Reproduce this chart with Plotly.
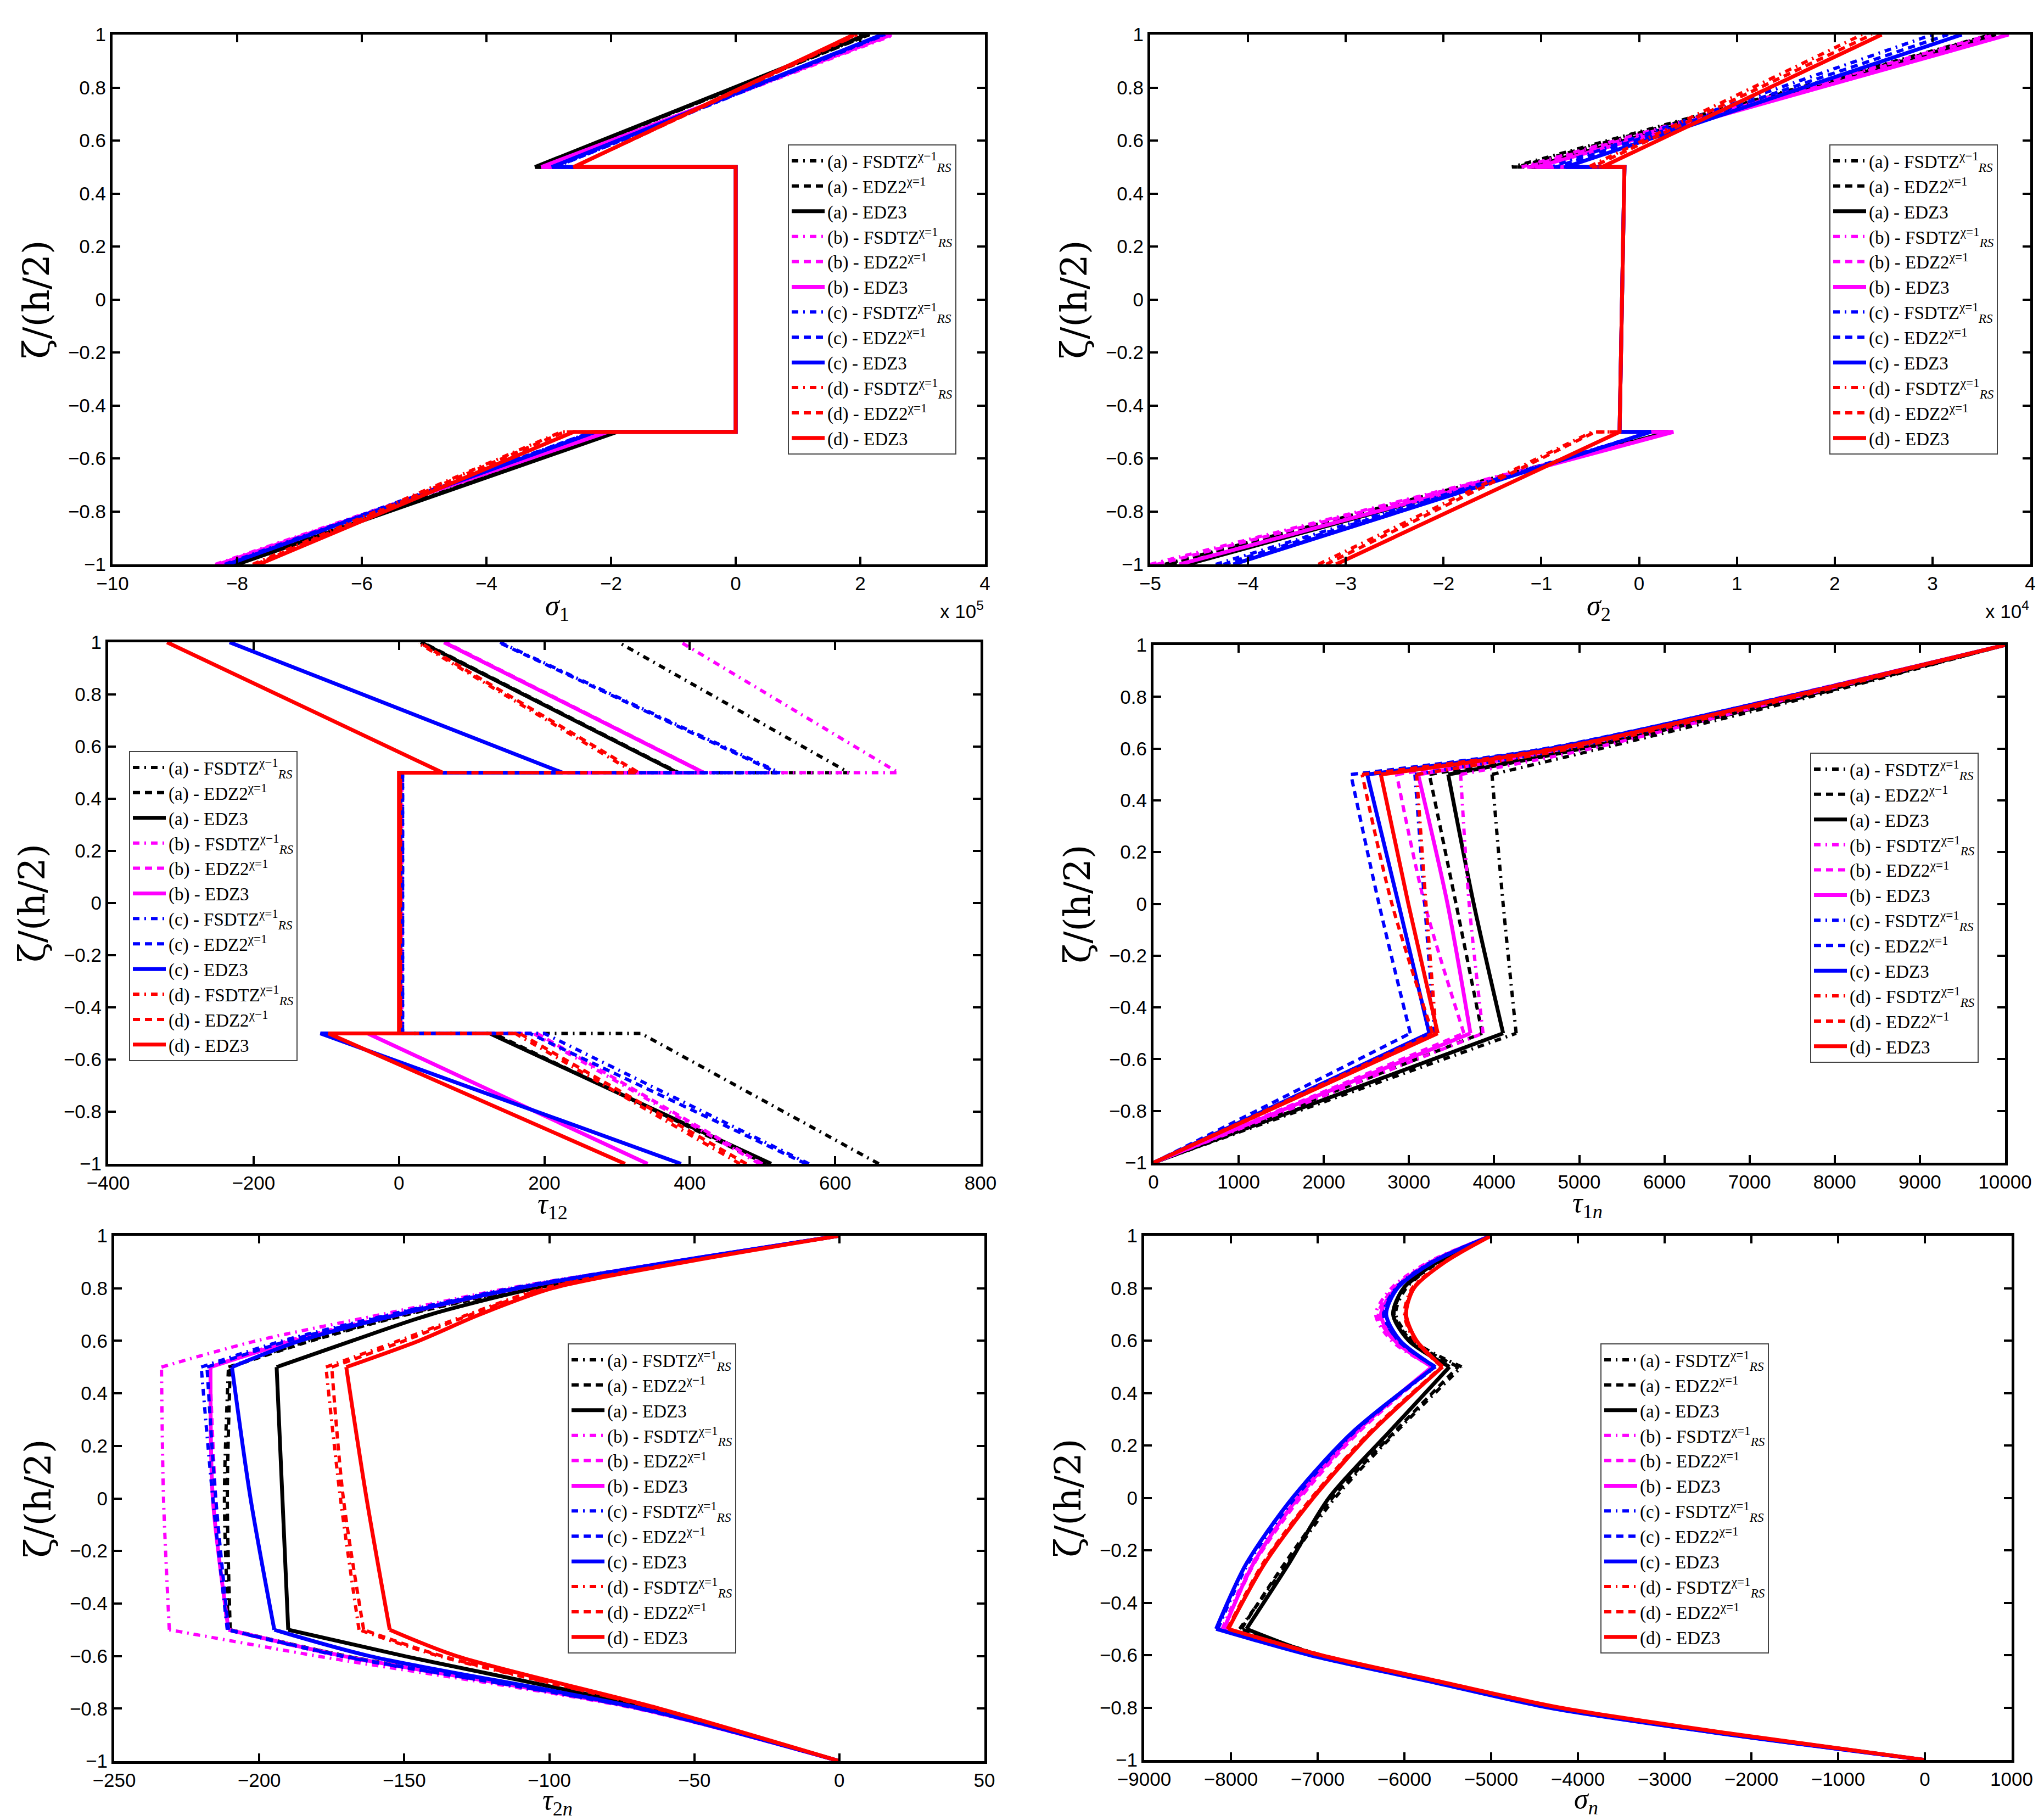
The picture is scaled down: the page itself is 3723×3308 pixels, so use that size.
import plotly.graph_objects as go

# ---------------- data ----------------
CASES = ["(a)", "(b)", "(c)", "(d)"]
MODELS = ["FSDTZ", "EDZ2", "EDZ3"]
COLORS = ["#000000", "#ff00ff", "#0000ff", "#ff0000"]

# sigma_1 (x 1e5); zeta nodes with jumps at +-0.5
zeta_sigma1 = [-1, -0.5, -0.5, 0.5, 0.5, 1]
sigma1_a = [[-8.05, -1.95, 0, 0, -3.20, 2.15],
            [-8.00, -1.95, 0, 0, -3.20, 2.15],
            [-8.00, -1.90, 0, 0, -3.22, 2.10]]
sigma1_b = [[-8.35, -2.10, 0, 0, -3.10, 2.55],
            [-8.30, -2.10, 0, 0, -3.10, 2.50],
            [-8.30, -2.05, 0, 0, -3.12, 2.50]]
sigma1_c = [[-8.20, -2.30, 0, 0, -2.90, 2.40],
            [-8.15, -2.30, 0, 0, -2.90, 2.38],
            [-8.15, -2.25, 0, 0, -2.95, 2.35]]
sigma1_d = [[-7.75, -2.80, 0, 0, -2.60, 1.95],
            [-7.70, -2.75, 0, 0, -2.60, 1.95],
            [-7.65, -2.60, 0, 0, -2.60, 1.90]]

# sigma_2 (x 1e4)
zeta_sigma2 = [-1, -0.5, -0.5, 0.5, 0.5, 1]
sigma2_a = [[-4.85, 0.30, -0.20, -0.15, -1.30, 3.60],
            [-4.80, 0.30, -0.20, -0.15, -1.25, 3.62],
            [-4.62, 0.30, -0.20, -0.15, -1.10, 3.65]]
sigma2_b = [[-5.00, 0.35, -0.20, -0.15, -1.20, 3.60],
            [-4.93, 0.35, -0.20, -0.15, -1.15, 3.65],
            [-4.70, 0.35, -0.20, -0.15, -1.05, 3.78]]
sigma2_c = [[-4.33, 0.12, -0.20, -0.15, -0.90, 3.00],
            [-4.25, 0.12, -0.20, -0.15, -0.85, 3.16],
            [-4.15, 0.12, -0.20, -0.15, -0.75, 3.30]]
sigma2_d = [[-3.28, -0.48, -0.20, -0.15, -0.52, 2.28],
            [-3.20, -0.45, -0.20, -0.15, -0.48, 2.38],
            [-3.10, -0.20, -0.20, -0.15, -0.38, 2.48]]

# tau_12
zeta_tau12 = [-1, -0.5, -0.5, 0.5, 0.5, 1]
tau12_a = [[660, 333, 3, 3, 619, 302],
           [505, 130, 3, 3, 385, 32],
           [512, 125, 2, 2, 383, 30]]
tau12_b = [[496, 185, 4, 4, 687, 388],
           [500, 190, 4, 4, 420, 64],
           [342, -43, 1, 1, 419, 62]]
tau12_c = [[564, 200, 5, 5, 524, 139],
           [560, 180, 5, 5, 520, 137],
           [388, -108, 1, 1, 225, -233]]
tau12_d = [[469, 160, 2, 2, 324, 25],
           [478, 166, 2, 2, 330, 28],
           [311, -97, 0, 0, 60, -319]]

# tau_1n
zeta_tau1n = [-1, -0.5, 0, 0.5, 0.6, 0.8, 1]
tau1n_a = [[0, 4259, 4106, 3975, 5250, 7710, 10000],
           [0, 3860, 3553, 3240, 4950, 7650, 10000],
           [0, 4106, 3761, 3461, 5030, 7600, 10000]]
tau1n_b = [[0, 3870, 3707, 3607, 5140, 7550, 10000],
           [0, 3645, 3185, 2855, 4700, 7400, 10000],
           [0, 3722, 3453, 3108, 4800, 7450, 10000]]
tau1n_c = [[0, 3300, 3185, 3070, 4850, 7500, 10000],
           [0, 3016, 2648, 2318, 4600, 7420, 10000],
           [0, 3239, 2878, 2510, 4650, 7430, 10000]]
tau1n_d = [[0, 3320, 3200, 3090, 4900, 7550, 10000],
           [0, 3277, 2800, 2450, 4700, 7480, 10000],
           [0, 3338, 2993, 2670, 4750, 7470, 10000]]

# tau_2n
zeta_tau2n = [-1, -0.8, -0.6, -0.5, 0, 0.5, 0.6, 0.7, 0.8, 0.9, 1]
tau2n_a = [[0, -68, -170, -210.6, -212, -210.6, -183, -150, -109, -57, 0],
           [0, -68, -170, -210.0, -211, -210.0, -182, -149, -108, -57, 0],
           [0, -65, -150, -190.0, -192, -194.0, -168, -141, -105, -56, 0]]
tau2n_b = [[0, -70, -180, -231.0, -233, -233.7, -201, -158, -114, -58, 0],
           [0, -69, -172, -211.0, -215, -217.0, -190, -153, -112, -58, 0],
           [0, -69, -171, -210.6, -216, -216.8, -188, -152, -111, -58, 0]]
tau2n_c = [[0, -69, -172, -211.0, -216, -220.0, -192, -155, -113, -58, 0],
           [0, -69, -171, -210.6, -215, -218.0, -190, -154, -112, -58, 0],
           [0, -68, -162, -194.8, -203, -209.4, -186, -152, -111, -58, 0]]
tau2n_d = [[0, -63, -138, -165.6, -172, -177.0, -152, -128, -102, -54, 0],
           [0, -63, -137, -164.0, -171, -175.0, -150, -127, -101, -54, 0],
           [0, -62, -132, -155.0, -163, -170.0, -145, -124, -99, -53, 0]]

# sigma_n
zeta_sigman = [-1, -0.9, -0.8, -0.7, -0.6, -0.5, -0.25, 0, 0.25, 0.5, 0.6, 0.7, 0.8, 0.9, 1]
sigman_a = [[0, -2250, -4250, -5600, -6950, -7900, -7350, -6800, -6100, -5340, -5900, -6100, -5980, -5600, -5000],
            [0, -2250, -4250, -5620, -6970, -7880, -7380, -6830, -6120, -5380, -5920, -6120, -6000, -5600, -5000],
            [0, -2260, -4270, -5650, -7000, -7820, -7330, -6870, -6180, -5480, -5950, -6130, -6010, -5620, -5000]]
sigman_b = [[0, -2320, -4330, -5700, -7070, -8100, -7750, -7220, -6550, -5680, -6150, -6330, -6150, -5720, -5000],
            [0, -2320, -4330, -5700, -7060, -8080, -7730, -7200, -6530, -5660, -6120, -6300, -6120, -5700, -5000],
            [0, -2310, -4320, -5690, -7050, -8080, -7740, -7230, -6560, -5680, -6110, -6270, -6100, -5690, -5000]]
sigman_c = [[0, -2330, -4330, -5700, -7080, -8150, -7800, -7260, -6580, -5640, -6070, -6240, -6100, -5690, -5000],
            [0, -2330, -4330, -5700, -7080, -8160, -7820, -7290, -6600, -5650, -6070, -6230, -6090, -5680, -5000],
            [0, -2330, -4340, -5710, -7090, -8170, -7820, -7290, -6600, -5650, -6050, -6210, -6080, -5670, -5000]]
sigman_d = [[0, -2230, -4220, -5620, -6980, -8030, -7620, -7060, -6390, -5560, -5880, -6000, -5910, -5540, -5000],
            [0, -2230, -4220, -5620, -6980, -8040, -7630, -7070, -6400, -5570, -5870, -5990, -5900, -5530, -5000],
            [0, -2220, -4210, -5600, -6960, -8030, -7610, -7050, -6380, -5560, -5860, -5980, -5890, -5530, -5000]]

# chi operator shown in the legend for the FSDTZ / EDZ2 entries of each case
chi_sigma1 = [["−", "="], ["=", "="], ["=", "="], ["=", "="]]
chi_sigma2 = [["−", "="], ["=", "="], ["=", "="], ["=", "="]]
chi_tau12 = [["−", "="], ["−", "="], ["=", "="], ["=", "−"]]
chi_tau1n = [["=", "−"], ["=", "="], ["=", "="], ["=", "−"]]
chi_tau2n = [["=", "−"], ["=", "="], ["=", "−"], ["=", "="]]
chi_sigman = [["=", "="], ["=", "="], ["=", "="], ["=", "="]]

# ---------------- figure ----------------
W, H = 3723, 3308

def fx(px):
    return px / W

def fy(py):
    return 1 - py / H

panels = [
    dict(zeta=zeta_sigma1, vals=[sigma1_a, sigma1_b, sigma1_c, sigma1_d], chi=chi_sigma1,
         box=(197, 1786, 55, 1020), xr=[-10, 4], dt=2, title="<i>σ</i><sub>1</sub>",
         title_y=1098, leg=(1427, 255), expo="5", smooth=False),
    dict(zeta=zeta_sigma2, vals=[sigma2_a, sigma2_b, sigma2_c, sigma2_d], chi=chi_sigma2,
         box=(2087, 3690, 55, 1020), xr=[-5, 4], dt=1, title="<i>σ</i><sub>2</sub>",
         title_y=1098, leg=(3324, 255), expo="4", smooth=False),
    dict(zeta=zeta_tau12, vals=[tau12_a, tau12_b, tau12_c, tau12_d], chi=chi_tau12,
         box=(189, 1778, 1162, 2112), xr=[-400, 800], dt=200, title="<i>τ</i><sub>12</sub>",
         title_y=2188, leg=(227, 1360), expo=None, smooth=False),
    dict(zeta=zeta_tau1n, vals=[tau1n_a, tau1n_b, tau1n_c, tau1n_d], chi=chi_tau1n,
         box=(2093, 3644, 1167, 2110), xr=[0, 10000], dt=1000, title="<i>τ</i><sub>1<i>n</i></sub>",
         title_y=2186, leg=(3289, 1363), expo=None, smooth=True),
    dict(zeta=zeta_tau2n, vals=[tau2n_a, tau2n_b, tau2n_c, tau2n_d], chi=chi_tau2n,
         box=(200, 1785, 2243, 3200), xr=[-250, 50], dt=50, title="<i>τ</i><sub>2<i>n</i></sub>",
         title_y=3274, leg=(1026, 2439), expo=None, smooth=True),
    dict(zeta=zeta_sigman, vals=[sigman_a, sigman_b, sigman_c, sigman_d], chi=chi_sigman,
         box=(2076, 3656, 2243, 3198), xr=[-9000, 1000], dt=1000, title="<i>σ</i><sub><i>n</i></sub>",
         title_y=3272, leg=(2907, 2439), expo=None, smooth=True),
]

DASHES = ["12px,9px,3px,9px", "13px,9px", "solid"]
WIDTHS = [6, 6, 7]

fig = go.Figure()
layout = dict(width=W, height=H, margin=dict(l=0, r=0, t=0, b=0),
              paper_bgcolor="white", plot_bgcolor="white", annotations=[])

tick_font = dict(family="Liberation Sans", size=35, color="black")
title_font = dict(family="Liberation Serif", size=52, color="black")


def segments(zeta):
    """index ranges of the three layers (split at the interfaces)"""
    i1 = zeta.index(-0.5)
    i2 = zeta.index(0.5)
    return [(0, i1 + 1), (i1, i2 + 1), (i2, len(zeta))]


for i, p in enumerate(panels):
    sfx = "" if i == 0 else str(i + 1)
    for c in range(4):
        for m in range(3):
            if m == 0:
                name = f"{CASES[c]} - FSDTZ<sup>χ{p['chi'][c][0]}1</sup><sub><i>RS</i></sub>"
            elif m == 1:
                name = f"{CASES[c]} - EDZ2<sup>χ{p['chi'][c][1]}1</sup>"
            else:
                name = f"{CASES[c]} - EDZ3"
            xs = p["vals"][c][m]
            zs = p["zeta"]
            line = dict(color=COLORS[c], width=WIDTHS[m], dash=DASHES[m])
            grp = f"p{i}_{c}_{m}"
            if p["smooth"]:
                for k, (a, b) in enumerate(segments(zs)):
                    fig.add_trace(go.Scatter(
                        x=xs[a:b], y=zs[a:b], mode="lines", name=name,
                        xaxis="x" + sfx, yaxis="y" + sfx, legend="legend" + sfx,
                        legendgroup=grp, showlegend=(k == 0),
                        line=dict(line, shape="spline", smoothing=0.8)))
            else:
                fig.add_trace(go.Scatter(
                    x=xs, y=zs, mode="lines", name=name,
                    xaxis="x" + sfx, yaxis="y" + sfx, legend="legend" + sfx,
                    legendgroup=grp, line=line))
    l, r, t, b = p["box"]
    layout["xaxis" + sfx] = dict(
        domain=[fx(l), fx(r)], anchor="y" + sfx, range=p["xr"], dtick=p["dt"], tick0=0,
        tickformat="d", showgrid=False, zeroline=False, showline=True, linewidth=5,
        linecolor="black", mirror="ticks", ticks="inside", ticklen=14, tickwidth=4,
        tickcolor="black", tickfont=tick_font, automargin=False)
    layout["yaxis" + sfx] = dict(
        domain=[fy(b), fy(t)], anchor="x" + sfx, range=[-1, 1], dtick=0.2, tick0=0,
        showgrid=False, zeroline=False, showline=True, linewidth=5,
        linecolor="black", mirror="ticks", ticks="inside", ticklen=14, tickwidth=4,
        tickcolor="black", tickfont=tick_font, automargin=False,
        title=dict(text="ζ/(h/2)", font=dict(family="DejaVu Serif", size=66, color="black"),
                   standoff=14))
    # x-axis title placed as text under the axis
    layout["annotations"].append(dict(
        text=p["title"], x=fx((l + r) / 2 + 15), y=fy(p["title_y"]), xref="paper", yref="paper",
        xanchor="center", yanchor="middle", showarrow=False, borderpad=0, font=title_font))
    lx, ly = p["leg"]
    layout["legend" + sfx] = dict(
        x=fx(lx), y=fy(ly), xanchor="left", yanchor="top", xref="paper", yref="paper",
        bgcolor="white", bordercolor="#444444", borderwidth=2, tracegroupgap=0,
        itemwidth=60, font=dict(family="Liberation Serif", size=33, color="black"))
    if p["expo"]:
        layout["annotations"].append(dict(
            text=f"x 10<sup>{p['expo']}</sup>", x=fx(r), y=fy(1103), xref="paper", yref="paper",
            xanchor="right", yanchor="middle", showarrow=False,
            font=dict(family="Liberation Sans", size=35, color="black")))

fig.update_layout(**layout)
fig.write_html("out.html")
